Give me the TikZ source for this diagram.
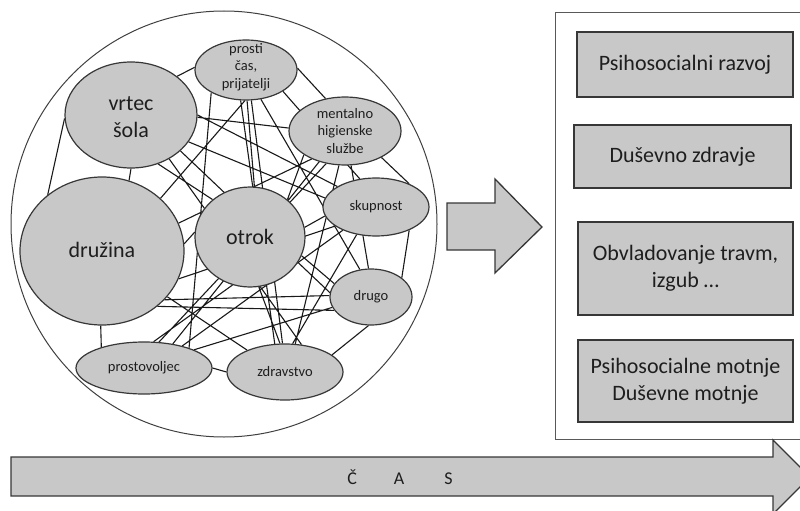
\documentclass[tikz,border=0pt]{standalone}
\usepackage{fontspec}
\setmainfont{Carlito}
\usetikzlibrary{shapes.geometric,backgrounds}
\definecolor{fillg}{RGB}{200,200,200}
\definecolor{edgeg}{RGB}{55,55,55}
\definecolor{txt}{RGB}{30,30,30}
\begin{document}
\begin{tikzpicture}[x=1pt,y=-1pt,
  ell/.style={ellipse,draw=edgeg,fill=fillg,line width=1.2pt,inner sep=0pt},
  lab/.style={align=center,text=txt,inner sep=0pt},
  bigtext/.style={font=\fontsize{22}{27}\selectfont},
  smalltext/.style={font=\fontsize{14.5}{17.5}\selectfont},
  link/.style={draw=black!90,line width=1.1pt},
  box/.style={draw=edgeg,fill=fillg,line width=1.3pt,align=center,text=txt,
    font=\fontsize{22}{27}\selectfont,inner sep=0pt},
  shapeline/.style={draw=edgeg,fill=fillg,line width=1.3pt,line join=miter}
]
\useasboundingbox (0,0) rectangle (800,511);

% outer circle
\draw[draw=black!75,line width=1pt] (224,224) circle (213pt);

% ellipse nodes
\node[ell,minimum width=132pt,minimum height=106pt] (vs) at (131,115) {};
\node[ell,minimum width=164pt,minimum height=148pt] (dr) at (102,251) {};
\node[ell,minimum width=110pt,minimum height=100pt] (ot) at (250,237) {};
\node[ell,minimum width=102pt,minimum height=60pt] (pc) at (246,70) {};
\node[ell,minimum width=112pt,minimum height=68pt] (mh) at (345,131) {};
\node[ell,minimum width=106pt,minimum height=58pt] (sk) at (376,207) {};
\node[ell,minimum width=82pt,minimum height=56pt] (dg) at (371,297) {};
\node[ell,minimum width=136pt,minimum height=52pt] (pv) at (144,368) {};
\node[ell,minimum width=116pt,minimum height=56pt] (zd) at (285,372) {};

% labels
\node[lab,bigtext] (vst) at (131,117) {vrtec\\šola};
\node[lab,bigtext] (drt) at (102,250) {družina};
\node[lab,bigtext] (ott) at (250,237) {otrok};
\node[lab,smalltext] (pct) at (246,67) {prosti\\čas,\\prijatelji};
\node[lab,smalltext] (mht) at (345,131) {mentalno\\higienske\\službe};
\node[lab,smalltext] (skt) at (376,207) {skupnost};
\node[lab,smalltext] (dgt) at (371,297) {drugo};
\node[lab,smalltext] (pvt) at (144,368) {prostovoljec};
\node[lab,smalltext] (zdt) at (285,372) {zdravstvo};

% connectors
\begin{pgfonlayer}{background}
\path[link]
 (vs.40) -- (pc.177)
 (vs.-90) -- (dr.69)
 (vs.183) -- (dr.134)
 (vs.-2) -- (mh.177)
 (vs.0) -- (sk.152)
 (vs.-25) -- (sk.170)
 (vs.-61) -- (ot.135)
 (vs.-49) -- (zd.59)
 (vs.-36) -- (dg.174)
 (pc.2) -- (mh.121)
 (pc.-92) -- (dr.42)
 (pc.-88) -- (ot.85)
 (pc.-63) -- (dg.112)
 (pc.-80) -- (zd.95)
 (pc.-100) -- (zd.110)
 (pc.-147) -- (pv.24)
 (pc.-30) -- (sk.120)
 (mh.-36) -- (sk.35)
 (mh.-140) -- (dr.20)
 (mh.-150) -- (ot.45)
 (mh.-130) -- (pv.40)
 (mh.-120) -- (pv.60)
 (mh.-100) -- (zd.70)
 (mh.-80) -- (dg.95)
 (sk.-35) -- (dg.32)
 (sk.190) -- (ot.10)
 (sk.215) -- (pv.30)
 (sk.235) -- (zd.75)
 (sk.205) -- (dr.-20)
 (dg.178) -- (dr.-38)
 (dg.200) -- (dr.-45)
 (dg.-95) -- (zd.20)
 (dg.195) -- (pv.20)
 (dg.160) -- (ot.-20)
 (pv.0) -- (zd.180)
 (pv.70) -- (ot.-110)
 (zd.100) -- (ot.-80)
 (dr.5) -- (ot.175)
 (dr.-35) -- (zd.150)
 (dr.-91) -- (pv.154);
\end{pgfonlayer}

% middle arrow
\path[shapeline] (447,203) -- (495,203) -- (495,179) -- (542,227) -- (495,273)
  -- (495,250) -- (447,250) -- cycle;

\begin{scope}
\clip (0,0) rectangle (800,511);
% right panel
\draw[draw=black!65,line width=1pt] (555,13) rectangle (803,439);
% time arrow
\path[shapeline] (11,457) -- (773,457) -- (773,440) -- (810,477) -- (773,514)
  -- (773,496) -- (11,496) -- cycle;
\end{scope}

\node[box,minimum width=216pt,minimum height=65pt] (b1) at (685,64.5) {Psihosocialni razvoj};
\node[box,minimum width=217pt,minimum height=63pt] (b2) at (682.5,156.5) {Duševno zdravje};
\node[box,minimum width=215pt,minimum height=93pt] (b3) at (685.5,268.5) {Obvladovanje travm,\\izgub …};
\node[box,minimum width=215pt,minimum height=82pt] (b4) at (685.5,381) {Psihosocialne motnje\\Duševne motnje};

\node[lab,font=\fontsize{18}{20}\selectfont] (cas) at (400,477) {Č\hspace{37pt}A\hspace{40pt}S};
\end{tikzpicture}
\end{document}
